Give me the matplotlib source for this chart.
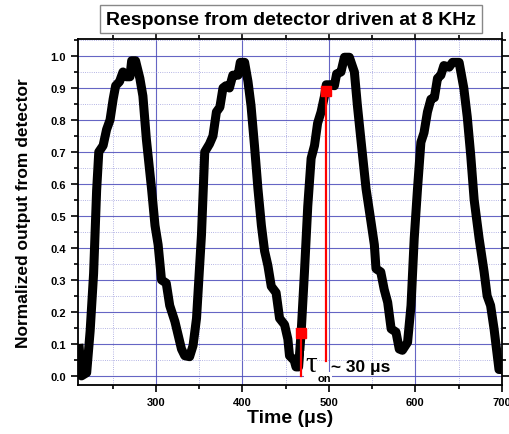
import numpy as np
import matplotlib
matplotlib.use("Agg")
import matplotlib.pyplot as plt
from matplotlib.ticker import MultipleLocator, FormatStrFormatter

plt.rcParams['font.family'] = ['Liberation Sans', 'DejaVu Sans']

# detector response
time_us = [211, 214, 220, 224, 228, 231.5, 234, 239, 243, 247, 250.6, 253.5, 258, 262, 266, 270,
           272, 276.5, 281.5, 285, 289, 295, 299, 302.6, 306.5, 312, 316, 322, 329.6, 333.4, 339,
           343, 347, 352.7, 356.5, 362, 366, 370, 374, 377.6, 381, 385, 389, 395, 397.6, 402.6,
           406.5, 410, 414, 418, 422, 425.7, 429.5, 433.4, 439, 443, 448.8, 452.6, 454.5, 460,
           462, 465, 468, 471.8, 475.6, 479.5, 483.4, 487, 491, 495, 497, 501, 506.4, 509, 514,
           518, 523.7, 529.5, 533, 537, 543, 548.8, 552.6, 554.5, 560, 564, 568, 572, 577.6,
           581.4, 585, 591, 595, 598.7, 602.5, 606.4, 610, 614, 618, 622, 625.6, 629.5, 633,
           639, 643, 650.6, 656, 660, 664, 668, 673.7, 679.5, 683, 687, 691, 696.7, 700]
signal = [0.10, 0.0, 0.01, 0.14, 0.32, 0.58, 0.70, 0.72, 0.77, 0.80, 0.865, 0.907, 0.92, 0.95, 0.935, 0.935,
          0.985, 0.985, 0.93, 0.875, 0.74, 0.585, 0.47, 0.41, 0.30, 0.29, 0.22, 0.17, 0.084, 0.063, 0.06,
          0.095, 0.18, 0.44, 0.70, 0.725, 0.75, 0.825, 0.84, 0.90, 0.907, 0.90, 0.94, 0.94, 0.98, 0.98,
          0.92, 0.845, 0.72, 0.585, 0.47, 0.39, 0.345, 0.28, 0.26, 0.18, 0.16, 0.115, 0.063, 0.048,
          0.028, 0.028, 0.137, 0.325, 0.53, 0.68, 0.72, 0.79, 0.825, 0.875, 0.91, 0.91, 0.907, 0.944, 0.95,
          0.996, 0.996, 0.95, 0.845, 0.74, 0.585, 0.48, 0.41, 0.335, 0.325, 0.27, 0.23, 0.147, 0.137,
          0.084, 0.08, 0.105, 0.22, 0.43, 0.585, 0.73, 0.76, 0.825, 0.865, 0.87, 0.93, 0.94, 0.97,
          0.965, 0.98, 0.98, 0.90, 0.81, 0.69, 0.55, 0.43, 0.325, 0.25, 0.22, 0.147, 0.02, 0.02]

# rise-time markers
rise_t = [468, 497]
rise_v = [0.135, 0.89]
rise_floor = [0.0, 0.045]

fig = plt.figure(figsize=(5.1, 4.35), dpi=100)
ax = fig.add_axes([0.153, 0.113, 0.831, 0.795])

ax.plot(time_us, signal, color='black', lw=6.5, solid_joinstyle='round',
        solid_capstyle='butt', zorder=3)

for t, v, f in zip(rise_t, rise_v, rise_floor):
    ax.plot([t, t], [f, v], color='red', lw=1.6, zorder=4)
ax.plot(rise_t, rise_v, 's', color='red', ms=7, zorder=5)

# tau_on ~ 30 us label
ax.text(472.5, -0.004, '\u03c4', fontsize=21, family=['Liberation Serif', 'DejaVu Serif'],
        va='bottom', ha='left',
        bbox=dict(facecolor='white', edgecolor='none', pad=0.5), zorder=6)
ax.text(487.5, -0.022, 'on', fontsize=8, fontweight='bold', va='bottom', ha='left',
        bbox=dict(facecolor='white', edgecolor='none', pad=0.5), zorder=6)
ax.text(502, 0.005, '~ 30 \u03bcs', fontsize=12.5, fontweight='bold', va='bottom', ha='left', zorder=6)

ax.set_xlim(210, 700)
ax.set_ylim(-0.028, 1.053)
ax.set_xticks([300, 400, 500, 600, 700])
ax.xaxis.set_minor_locator(MultipleLocator(50))
ax.yaxis.set_major_locator(MultipleLocator(0.1))
ax.yaxis.set_minor_locator(MultipleLocator(0.05))
ax.yaxis.set_major_formatter(FormatStrFormatter('%.1f'))

ax.grid(which='major', color='#4a4aba', lw=0.8, alpha=0.85)
ax.grid(which='minor', color='#9c9cdc', lw=0.6, ls=':')
ax.set_axisbelow(True)

ax.tick_params(which='both', direction='out', top=True, right=True, width=1.2)
ax.tick_params(which='major', length=5, labelsize=8)
ax.tick_params(which='minor', length=3)
ax.tick_params(labelright=False, labeltop=False)
for lab in ax.get_xticklabels() + ax.get_yticklabels():
    lab.set_fontweight('bold')
for sp in ax.spines.values():
    sp.set_linewidth(1.3)

ax.set_xlabel('Time (\u03bcs)', fontsize=14, fontweight='bold', labelpad=2)
ax.set_ylabel('Normalized output from detector', fontsize=12.5, fontweight='bold', labelpad=14)

fig.text(0.571, 0.954, 'Response from detector driven at 8 KHz', fontsize=14, fontweight='bold',
         ha='center', va='center',
         bbox=dict(facecolor='white', edgecolor='#888888', lw=1, boxstyle='square,pad=0.3'))

fig.savefig('out.png', dpi=100)
